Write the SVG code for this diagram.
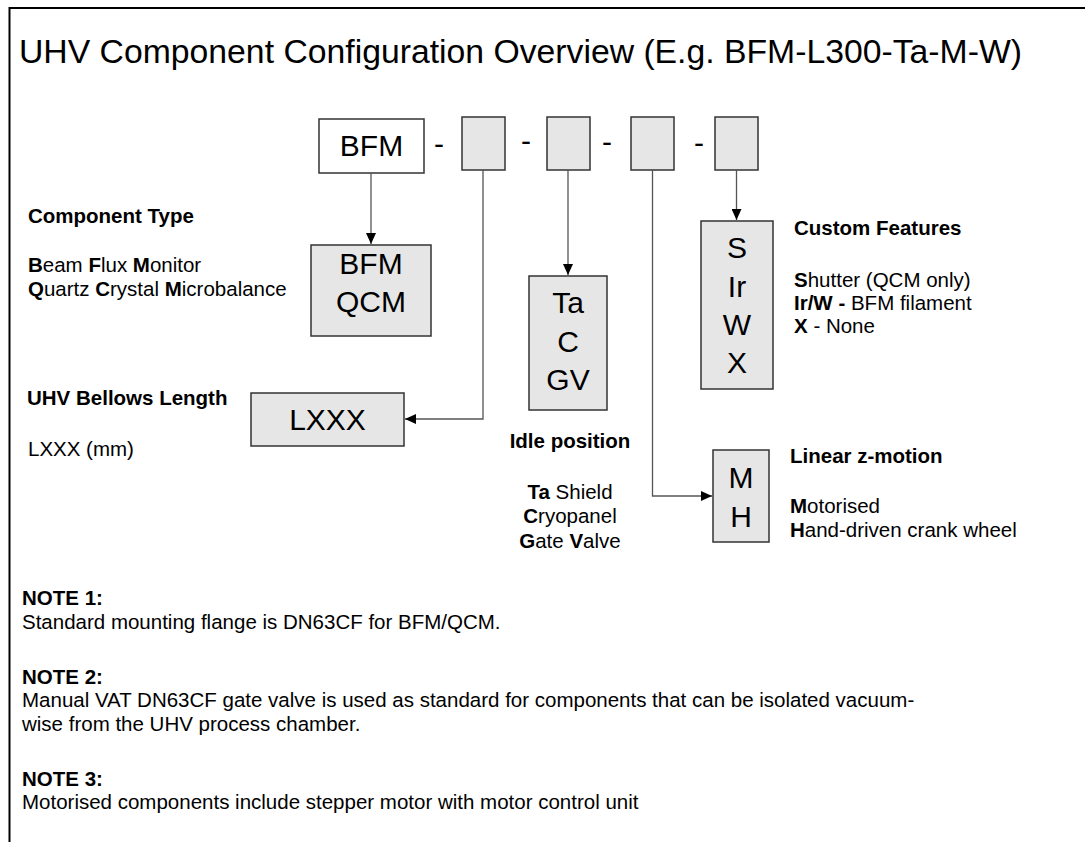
<svg xmlns="http://www.w3.org/2000/svg" width="1085" height="842" viewBox="0 0 1085 842">
<style>
.t{font-family:"Liberation Sans",Arial,sans-serif;fill:#000}
.title{font-size:34px}
.lbl{font-size:20.5px}
.h{font-size:20.5px;font-weight:bold}
.b{font-weight:bold}
.bx{font-size:30px;text-anchor:middle}
.box{fill:#e6e6e6;stroke:#333;stroke-width:1.5}
.wbox{fill:#fff;stroke:#333;stroke-width:1.5}
.con{fill:none;stroke:#555;stroke-width:1.3}
</style>
<defs>
<marker id="arr" markerUnits="userSpaceOnUse" markerWidth="12" markerHeight="10" refX="11" refY="5" orient="auto">
<path d="M0,0 L11,5 L0,10 z" fill="#000"/>
</marker>
</defs>
<rect width="1085" height="842" fill="#fff"/>
<path d="M9.5,842 V8 H1085" fill="none" stroke="#000" stroke-width="2"/>
<text class="t title" x="19" y="63" textLength="1003" lengthAdjust="spacingAndGlyphs">UHV Component Configuration Overview (E.g. BFM-L300-Ta-M-W)</text>

<g id="code-row">
<g id="code-bfm"><rect class="wbox" x="319" y="119" width="105" height="54"/><text class="t bx" x="371.5" y="156">BFM</text></g>
<text class="t bx" x="439" y="154">-</text>
<g id="code-2"><rect class="box" x="462" y="117" width="43" height="53"/></g>
<text class="t bx" x="526" y="151">-</text>
<g id="code-3"><rect class="box" x="547" y="117" width="43" height="53"/></g>
<text class="t bx" x="607" y="152">-</text>
<g id="code-4"><rect class="box" x="631" y="117" width="43" height="53"/></g>
<text class="t bx" x="699" y="153">-</text>
<g id="code-5"><rect class="box" x="715" y="117" width="43" height="53"/></g>
</g>

<g id="connectors">
<path class="con" d="M371,173 V244" marker-end="url(#arr)"/>
<path class="con" d="M483,170 V419 H405" marker-end="url(#arr)"/>
<path class="con" d="M568,170 V275" marker-end="url(#arr)"/>
<path class="con" d="M652.5,170 V496 H712" marker-end="url(#arr)"/>
<path class="con" d="M736.5,170 V220" marker-end="url(#arr)"/>
</g>

<g id="component-type">
<rect class="box" x="311" y="245" width="120" height="91"/>
<text class="t bx" x="371" y="274">BFM</text>
<text class="t bx" x="371" y="312">QCM</text>
</g>
<g id="component-type-legend">
<text class="t h" x="28" y="223">Component Type</text>
<text class="t lbl" x="28" y="272"><tspan class="b">B</tspan>eam <tspan class="b">F</tspan>lux <tspan class="b">M</tspan>onitor</text>
<text class="t lbl" x="28" y="296"><tspan class="b">Q</tspan>uartz <tspan class="b">C</tspan>rystal <tspan class="b">M</tspan>icrobalance</text>
</g>

<g id="bellows">
<rect class="box" x="251" y="393" width="153" height="53"/>
<text class="t bx" x="327.5" y="430">LXXX</text>
</g>
<g id="bellows-legend">
<text class="t h" x="27" y="405">UHV Bellows Length</text>
<text class="t lbl" x="28" y="456">LXXX (mm)</text>
</g>

<g id="idle">
<rect class="box" x="529" y="276" width="78" height="134"/>
<text class="t bx" x="568" y="313">Ta</text>
<text class="t bx" x="568" y="352">C</text>
<text class="t bx" x="568" y="390">GV</text>
</g>
<g id="idle-legend">
<text class="t h" x="570" y="448" text-anchor="middle">Idle position</text>
<text class="t lbl" x="570" y="499" text-anchor="middle"><tspan class="b">Ta</tspan> Shield</text>
<text class="t lbl" x="570" y="523" text-anchor="middle"><tspan class="b">C</tspan>ryopanel</text>
<text class="t lbl" x="570" y="548" text-anchor="middle"><tspan class="b">G</tspan>ate <tspan class="b">V</tspan>alve</text>
</g>

<g id="custom">
<rect class="box" x="701" y="221" width="72" height="168"/>
<text class="t bx" x="737" y="258">S</text>
<text class="t bx" x="737" y="297">Ir</text>
<text class="t bx" x="737" y="335">W</text>
<text class="t bx" x="737" y="373">X</text>
</g>
<g id="custom-legend">
<text class="t h" x="794" y="235">Custom Features</text>
<text class="t lbl" x="794" y="287"><tspan class="b">S</tspan>hutter (QCM only)</text>
<text class="t lbl" x="794" y="310"><tspan class="b">Ir/W -</tspan> BFM filament</text>
<text class="t lbl" x="794" y="333"><tspan class="b">X</tspan> - None</text>
</g>

<g id="motion">
<rect class="box" x="713" y="450" width="56" height="92"/>
<text class="t bx" x="741" y="488">M</text>
<text class="t bx" x="741" y="527">H</text>
</g>
<g id="motion-legend">
<text class="t h" x="790" y="463">Linear z-motion</text>
<text class="t lbl" x="790" y="513"><tspan class="b">M</tspan>otorised</text>
<text class="t lbl" x="790" y="537"><tspan class="b">H</tspan>and-driven crank wheel</text>
</g>

<g id="notes">
<text class="t h" x="22" y="605">NOTE 1:</text>
<text class="t lbl" x="22" y="628.5">Standard mounting flange is DN63CF for BFM/QCM.</text>
<text class="t h" x="22" y="683.5">NOTE 2:</text>
<text class="t lbl" x="22" y="707">Manual VAT DN63CF gate valve is used as standard for components that can be isolated vacuum-</text>
<text class="t lbl" x="22" y="730.5">wise from the UHV process chamber.</text>
<text class="t h" x="22" y="785.5">NOTE 3:</text>
<text class="t lbl" x="22" y="809">Motorised components include stepper motor with motor control unit</text>
</g>
</svg>
